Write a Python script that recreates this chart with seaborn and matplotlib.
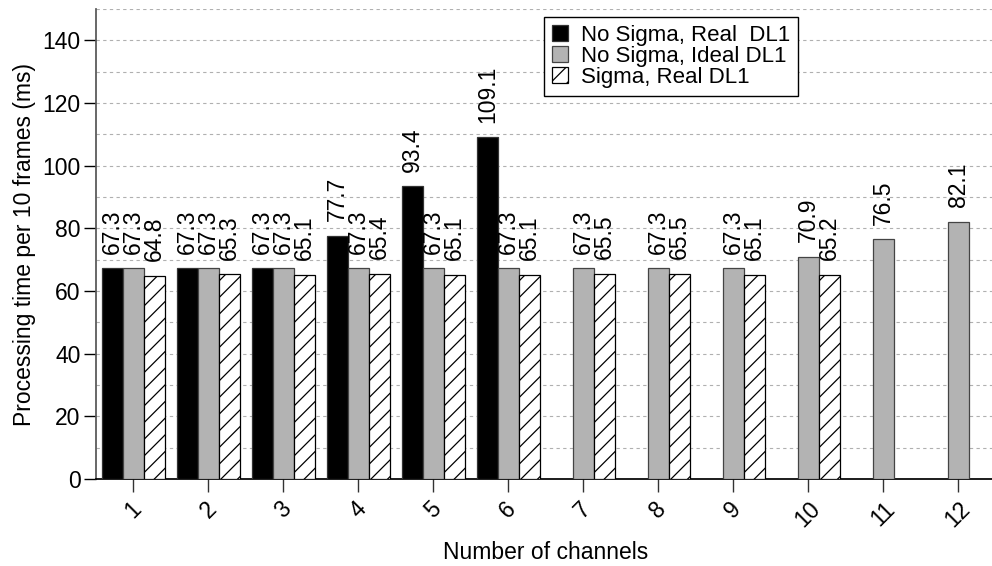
import matplotlib
matplotlib.use("Agg")
import pandas as pd
import seaborn as sns
from matplotlib import pyplot as plt

# values
channels = [str(c) for c in range(1, 13)]
series_names = ["No Sigma, Real  DL1", "No Sigma, Ideal DL1", "Sigma, Real DL1"]
no_sigma_real = [67.3, 67.3, 67.3, 77.7, 93.4, 109.1]
no_sigma_ideal = [67.3, 67.3, 67.3, 67.3, 67.3, 67.3, 67.3, 67.3, 67.3, 70.9, 76.5, 82.1]
sigma_real = [64.8, 65.3, 65.1, 65.4, 65.1, 65.1, 65.5, 65.5, 65.1, 65.2]

rows = []
for name, values in zip(series_names, [no_sigma_real, no_sigma_ideal, sigma_real]):
    for ch, v in zip(channels, values):
        rows.append({"channels": ch, "series": name, "time": v})
df = pd.DataFrame(rows)

sns.set_theme(style="ticks")
plt.rcParams["font.family"] = ["Liberation Sans", "DejaVu Sans"]
plt.rcParams["hatch.linewidth"] = 0.9
plt.rcParams["text.color"] = "black"
plt.rcParams["axes.labelcolor"] = "black"
plt.rcParams["xtick.labelcolor"] = "black"
plt.rcParams["ytick.labelcolor"] = "black"

FS = 16.5

fig = plt.figure(figsize=(9.92, 5.66), dpi=100)
ax = fig.add_axes([96 / 992, 1 - 479 / 566, 899.5 / 992, 470 / 566])

palette = {series_names[0]: "#000000", series_names[1]: "#b3b3b3", series_names[2]: "#ffffff"}
sns.barplot(
    data=df, x="channels", y="time", hue="series", order=channels, hue_order=series_names,
    palette=palette, width=0.84, saturation=1, legend=False, ax=ax, zorder=3,
)

edge_colors = ["#333333", "#444444", "#000000"]
for container, ec in zip(ax.containers, edge_colors):
    for patch in container:
        patch.set_edgecolor(ec)
        patch.set_linewidth(0.9)
    ax.bar_label(container, fmt="%.1f", rotation=90, padding=10.5, fontsize=FS, color="black")
for patch in ax.containers[2]:
    patch.set_hatch("//")

ax.set_xlim(-0.5, 11.5)
ax.set_ylim(0, 150)
ax.set_yticks(range(0, 141, 20))
for y in range(10, 151, 10):
    ax.axhline(y, color="#b0b0b0", linestyle=(0, (3, 3)), linewidth=0.8, zorder=1)

ax.spines["top"].set_visible(False)
ax.spines["right"].set_visible(False)
ax.spines["left"].set_color("#555555")
ax.spines["bottom"].set_color("#000000")
ax.tick_params(axis="y", direction="out", length=9, width=1, color="#000000", labelsize=FS, pad=2)
ax.tick_params(axis="x", direction="out", length=9, width=1, color="#333333", labelsize=FS, pad=4)
for lbl in ax.get_xticklabels():
    lbl.set_rotation(45)
    lbl.set_ha("center")

ax.set_xlabel("Number of channels", fontsize=FS, labelpad=7)
ax.set_ylabel("Processing time per 10 frames (ms)", fontsize=FS, labelpad=5)

leg = ax.legend(
    ax.containers, series_names, loc="upper right", bbox_to_anchor=(0.780, 0.983),
    fontsize=16, frameon=True, fancybox=False, framealpha=1, edgecolor="#000000",
    handlelength=0.75, handleheight=0.75, handletextpad=0.55, borderpad=0.35, labelspacing=0.0,
    borderaxespad=0,
)
leg.get_frame().set_linewidth(1)

fig.savefig("out.png", dpi=100)
